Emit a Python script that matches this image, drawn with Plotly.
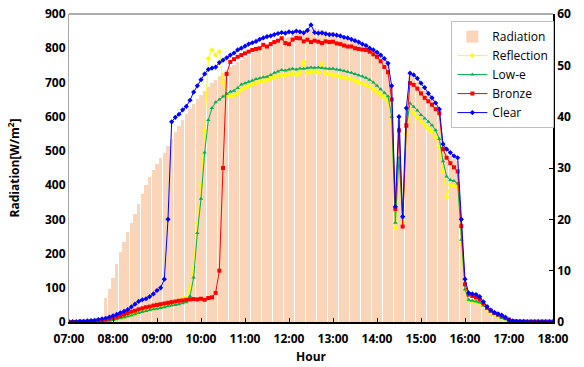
import pandas as pd
import plotly.graph_objects as go

# 5-minute timestamps 07:00 .. 18:00
times = pd.date_range("2020-01-01 07:00", "2020-01-01 18:00", freq="5min")

radiation = [
    0, 0, 0, 0, 0, 0, 0, 0, 0, 0, 70, 95,
    130, 170, 205, 235, 262, 288, 315, 345, 375, 400, 425, 445,
    462, 480, 495, 515, 535, 555, 572, 590, 608, 622, 638, 652,
    662, 675, 688, 698, 708, 718, 728, 736, 745, 752, 760, 767,
    773, 780, 786, 792, 798, 803, 808, 813, 818, 822, 826, 830,
    834, 838, 842, 845, 848, 852, 856, 858, 855, 852, 850, 848,
    846, 843, 840, 836, 832, 828, 823, 818, 812, 806, 800, 793,
    786, 778, 770, 760, 690, 330, 590, 300, 610, 720, 712, 700,
    688, 675, 662, 648, 632, 610, 515, 495, 485, 475, 470, 290,
    100, 70, 68, 66, 62, 52, 40, 32, 25, 20, 15, 10,
    6, 4, 3, 2, 1, 0, 0, 0, 0, 0, 0, 0,
    0,
]

reflection = [
    0, 0, 0, 0, 1, 1, 1, 2, 2, 3, 4, 5,
    7, 9, 12, 15, 18, 21, 25, 28, 32, 35, 38, 40,
    43, 45, 48, 51, 55, 59, 64, 68, 72, 95, 160, 290,
    400, 560, 770, 795, 780, 790, 700, 665, 660, 662, 668, 678,
    685, 690, 695, 698, 702, 705, 707, 712, 716, 718, 722, 720,
    724, 726, 722, 727, 760, 728, 731, 733, 729, 755, 727, 724,
    722, 720, 716, 715, 712, 710, 705, 700, 697, 693, 688, 680,
    672, 665, 655, 645, 580, 275, 455, 290, 550, 620, 610, 598,
    585, 575, 565, 555, 540, 510, 440, 365, 400, 398, 395, 230,
    92, 62, 60, 58, 55, 46, 36, 28, 22, 16, 11, 7,
    4, 2, 1, 1, 0, 0, 0, 0, 0, 0, 0, 0,
    0,
]

low_e = [
    0, 0, 0, 0, 0, 1, 1, 1, 2, 2, 3, 4,
    6, 8, 11, 13, 16, 19, 23, 26, 30, 32, 35, 37,
    39, 41, 43, 46, 48, 50, 52, 55, 58, 75, 130, 260,
    360, 495, 590, 625, 642, 650, 659, 667, 673, 676, 684, 694,
    698, 702, 706, 710, 712, 715, 717, 722, 728, 732, 736, 735,
    738, 740, 738, 741, 740, 742, 744, 743, 744, 742, 741, 740,
    741, 738, 736, 734, 731, 728, 725, 721, 718, 714, 708, 700,
    690, 680, 670, 660, 600, 290, 480, 305, 570, 639, 629, 618,
    605, 595, 585, 575, 560, 535, 470, 425, 415, 412, 405, 240,
    95, 65, 62, 60, 57, 48, 38, 30, 24, 18, 12, 8,
    5, 2, 1, 1, 0, 0, 0, 0, 0, 0, 0, 0,
    0,
]

bronze = [
    0, 0, 0, 1, 1, 1, 2, 3, 4, 6, 8, 10,
    12, 15, 18, 22, 26, 30, 33, 37, 40, 43, 45, 48,
    50, 52, 54, 56, 58, 60, 62, 63, 65, 66, 67, 66,
    68, 65, 70, 72, 85, 150, 450, 725, 760, 768, 775, 780,
    785, 790, 795, 798, 800, 810, 805, 812, 818, 822, 829, 815,
    812, 825, 830, 829, 820, 825, 818, 822, 819, 815, 820, 818,
    819, 814, 812, 808, 805, 805, 800, 798, 796, 795, 790, 782,
    775, 762, 745, 730, 650, 330, 560, 279, 575, 698, 693, 682,
    668, 655, 645, 635, 622, 610, 505, 480, 464, 452, 440, 280,
    110, 80, 76, 72, 66, 55, 42, 33, 26, 22, 17, 12,
    7, 3, 2, 1, 1, 1, 1, 1, 1, 1, 1, 1,
    1,
]

clear = [
    1, 1, 1, 2, 2, 3, 4, 5, 7, 9, 11, 14,
    18, 22, 27, 31, 36, 44, 52, 60, 65, 68, 74, 82,
    92, 100, 125, 300, 585, 598, 607, 620, 630, 648, 672, 690,
    708, 725, 738, 742, 745, 758, 765, 772, 780, 786, 795, 800,
    806, 812, 816, 820, 826, 830, 834, 836, 840, 843, 846, 844,
    848, 846, 850, 848, 845, 852, 868, 846, 844, 845, 842, 840,
    840, 838, 836, 832, 830, 826, 822, 818, 812, 808, 800, 795,
    788, 780, 770, 756, 690, 337, 600, 308, 625, 727, 722, 712,
    698, 685, 668, 655, 640, 622, 520, 505, 495, 485, 480, 300,
    125, 85, 82, 80, 74, 59, 45, 35, 28, 24, 20, 14,
    6, 3, 2, 2, 2, 1, 1, 1, 1, 1, 1, 1,
    1,
]

for arr in (radiation, reflection, low_e, bronze, clear):
    assert len(arr) == len(times)

FONT = "Open Sans"

fig = go.Figure()
fig.add_trace(go.Bar(
    x=times, y=radiation, name="Radiation",
    marker=dict(color="#F9C6A0", line=dict(width=0)),
    width=285000, opacity=0.72,
))

line_specs = [
    ("Reflection", reflection, "#FFFF00", "diamond", 4),
    ("Low-e", low_e, "#00B050", "triangle-up", 4),
    ("Bronze", bronze, "#FF0000", "square", 4),
    ("Clear", clear, "#0000FF", "diamond", 4),
]
for name, vals, col, sym, sz in line_specs:
    fig.add_trace(go.Scatter(
        x=times, y=vals, name=name, mode="lines+markers",
        line=dict(color=col, width=1),
        marker=dict(color=col, symbol=sym, size=sz, line=dict(width=0)),
    ))

# helper trace so that the secondary (right) axis is drawn
fig.add_trace(go.Scatter(x=[times[0]], y=[None], yaxis="y2",
                         showlegend=False, hoverinfo="skip"))

fig.update_layout(
    width=584, height=367,
    margin=dict(l=69, r=31, t=14, b=45, autoexpand=False),
    paper_bgcolor="white", plot_bgcolor="white",
    font=dict(family=FONT, size=12, color="black"),
    bargap=0,
    showlegend=True,
    legend=dict(
        x=0.79, y=0.977, xanchor="left", yanchor="top",
        bordercolor="#BFBFBF", borderwidth=1, bgcolor="white",
        font=dict(family=FONT, size=12, color="black"),
        itemwidth=30, tracegroupgap=0,
    ),
    xaxis=dict(
        type="date", automargin=False,
        range=[times[0], times[-1]],
        dtick=3600000, tickformat="%H:%M",
        showline=True, linecolor="black", linewidth=1.5,
        ticks="inside", ticklen=4, tickcolor="black",
        showgrid=False, zeroline=False,
        ticklabelstandoff=5,
        tickfont=dict(family=FONT, size=12, weight="bold"),
        title=dict(text="Hour", font=dict(family=FONT, size=12, weight="bold"),
                   standoff=6),
    ),
    yaxis=dict(
        range=[0, 900], dtick=100, automargin=False,
        showline=True, linecolor="#A6A6A6", linewidth=1,
        ticks="", showgrid=False, zeroline=False,
        tickfont=dict(family=FONT, size=12, weight="bold"),
        title=dict(text="Radiation[W/m<sup>2</sup>]",
                   font=dict(family=FONT, size=12, weight="bold"),
                   standoff=22),
    ),
    yaxis2=dict(
        overlaying="y", side="right", automargin=False,
        range=[0, 60], dtick=10,
        showline=True, linecolor="black", linewidth=1.5,
        ticks="inside", ticklen=4, tickcolor="black",
        showgrid=False, zeroline=False,
        tickfont=dict(family=FONT, size=12, weight="bold"),
    ),
    shapes=[dict(type="line", xref="paper", yref="paper",
                 x0=0, x1=1, y0=1, y1=1,
                 line=dict(color="#595959", width=1))],
)

# remove the default 8px page margin so the figure fills the window exactly
fig.write_html("out.html", config={"displayModeBar": False},
               post_script="document.body.style.margin='0px';")
